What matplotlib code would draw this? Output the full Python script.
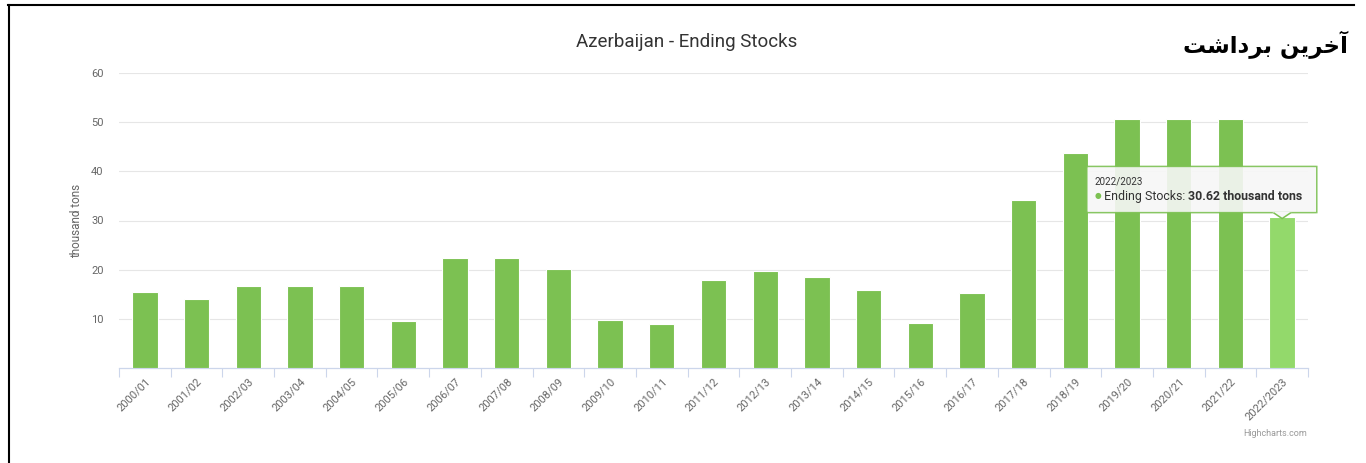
import matplotlib
matplotlib.use("Agg")
import matplotlib.pyplot as plt
from matplotlib.patches import FancyBboxPatch, Polygon
from matplotlib.lines import Line2D

# DATA:
seasons = ["2000/01", "2001/02", "2002/03", "2003/04", "2004/05", "2005/06",
           "2006/07", "2007/08", "2008/09", "2009/10", "2010/11", "2011/12",
           "2012/13", "2013/14", "2014/15", "2015/16", "2016/17", "2017/18",
           "2018/19", "2019/20", "2020/21", "2021/22", "2022/2023"]
ending_stocks = [15.4, 14.1, 16.6, 16.6, 16.6, 9.6, 22.4, 22.4, 20.2, 9.8,
                 9.0, 17.9, 19.8, 18.6, 15.8, 9.2, 15.3, 34.1, 43.7, 50.6,
                 50.6, 50.6, 30.62]
y_ticks = [10, 20, 30, 40, 50, 60]

# STYLE:
BAR_COLOR = "#7cc152"
HOVER_COLOR = "#93d96b"
GRID_COLOR = "#e6e6e6"
AXIS_COLOR = "#ccd6eb"
LABEL_COLOR = "#666666"
TIP_BG = "#f7f7f7"

plt.rcParams["font.family"] = ["Roboto", "DejaVu Sans"]

fig = plt.figure(figsize=(13.66, 4.63), dpi=100)
ax = fig.add_axes([119 / 1366, 95 / 463, 1189 / 1366, 295 / 463])

x = list(range(len(seasons)))
colors = [BAR_COLOR] * (len(seasons) - 1) + [HOVER_COLOR]
ax.bar(x, ending_stocks, width=0.49, color=colors, edgecolor="white",
       linewidth=0.8, zorder=3)

ax.set_xlim(-0.5, len(seasons) - 0.5)
ax.set_ylim(0, 60)
ax.set_yticks(y_ticks)
ax.tick_params(axis="y", length=0, pad=11, labelsize=8, labelcolor=LABEL_COLOR)
ax.grid(axis="y", color=GRID_COLOR, linewidth=0.8, zorder=0)

ax.set_xticks(x)
ax.set_xticklabels(seasons, rotation=45, ha="right", va="top",
                   rotation_mode="anchor", fontsize=8, color=LABEL_COLOR)
ax.tick_params(axis="x", which="major", length=0, pad=6)
ax.set_xticks([i - 0.5 for i in range(len(seasons) + 1)], minor=True)
ax.tick_params(axis="x", which="minor", length=6.5, color=AXIS_COLOR, width=0.8)

for side in ["top", "right", "left"]:
    ax.spines[side].set_visible(False)
ax.spines["bottom"].set_color(AXIS_COLOR)
ax.spines["bottom"].set_linewidth(0.9)

ax.set_ylabel("thousand tons", fontsize=8.5, color=LABEL_COLOR, labelpad=6)
fig.text(687 / 1366, 1 - 42 / 463, "Azerbaijan - Ending Stocks", ha="center",
         va="center", fontsize=13.5, color="#333333")

# tooltip on the last bar
last = len(seasons) - 1
box = FancyBboxPatch((18.22, 31.6), 4.45, 9.4, boxstyle="round,pad=0,rounding_size=0.06",
                     facecolor=TIP_BG, edgecolor=BAR_COLOR, linewidth=1.1,
                     alpha=0.9, zorder=5, clip_on=False, mutation_aspect=0.2)
ax.add_patch(box)
ax.plot([last - 0.15, last + 0.15], [31.6, 31.6], color=TIP_BG, lw=1.6,
        zorder=5.5, clip_on=False)
ax.add_patch(Polygon([[last - 0.17, 31.6], [last, 30.4], [last + 0.17, 31.6]],
                     closed=False, facecolor=TIP_BG, edgecolor=BAR_COLOR,
                     linewidth=1.1, zorder=6, clip_on=False))
ax.text(18.37, 38.0, seasons[last], fontsize=7, color="#333333", va="center",
        zorder=7)
bullet = ax.text(18.37, 34.9, "\u25cf", fontsize=5.5, color=BAR_COLOR,
                 va="center", zorder=7)
label = ax.annotate(" Ending Stocks: ", xy=(1, 0.5), xycoords=bullet,
                    va="center", fontsize=8.9, color="#333333", zorder=7)
ax.annotate(f"{ending_stocks[last]:.2f} thousand tons", xy=(1, 0),
            xycoords=label, va="bottom", fontsize=8.9, color="#333333",
            fontweight="bold", zorder=7)

fig.text(1307 / 1366, 1 - 433 / 463, "Highcharts.com", ha="right", va="center",
         fontsize=6.5, color="#999999")

# Persian heading (presentation forms in visual order)
heading = "\ufe96\ufeb7\ufe8d\ufea9\ufeae\ufe91 \ufee6\ufef3\ufeae\ufea7\ufe81"
fig.text(1348 / 1366, 1 - 45 / 463, heading, ha="right", va="center",
         fontsize=16.5, fontweight="bold", family="DejaVu Sans", color="black")

# screenshot frame
fig.add_artist(Line2D([8 / 1366, 1354 / 1366], [1 - 5 / 463, 1 - 5 / 463],
                      transform=fig.transFigure, color="black", lw=1.5))
fig.add_artist(Line2D([9 / 1366, 9 / 1366], [0, 1 - 5 / 463],
                      transform=fig.transFigure, color="black", lw=1.5))

fig.savefig("out.png", dpi=100, facecolor="white")
